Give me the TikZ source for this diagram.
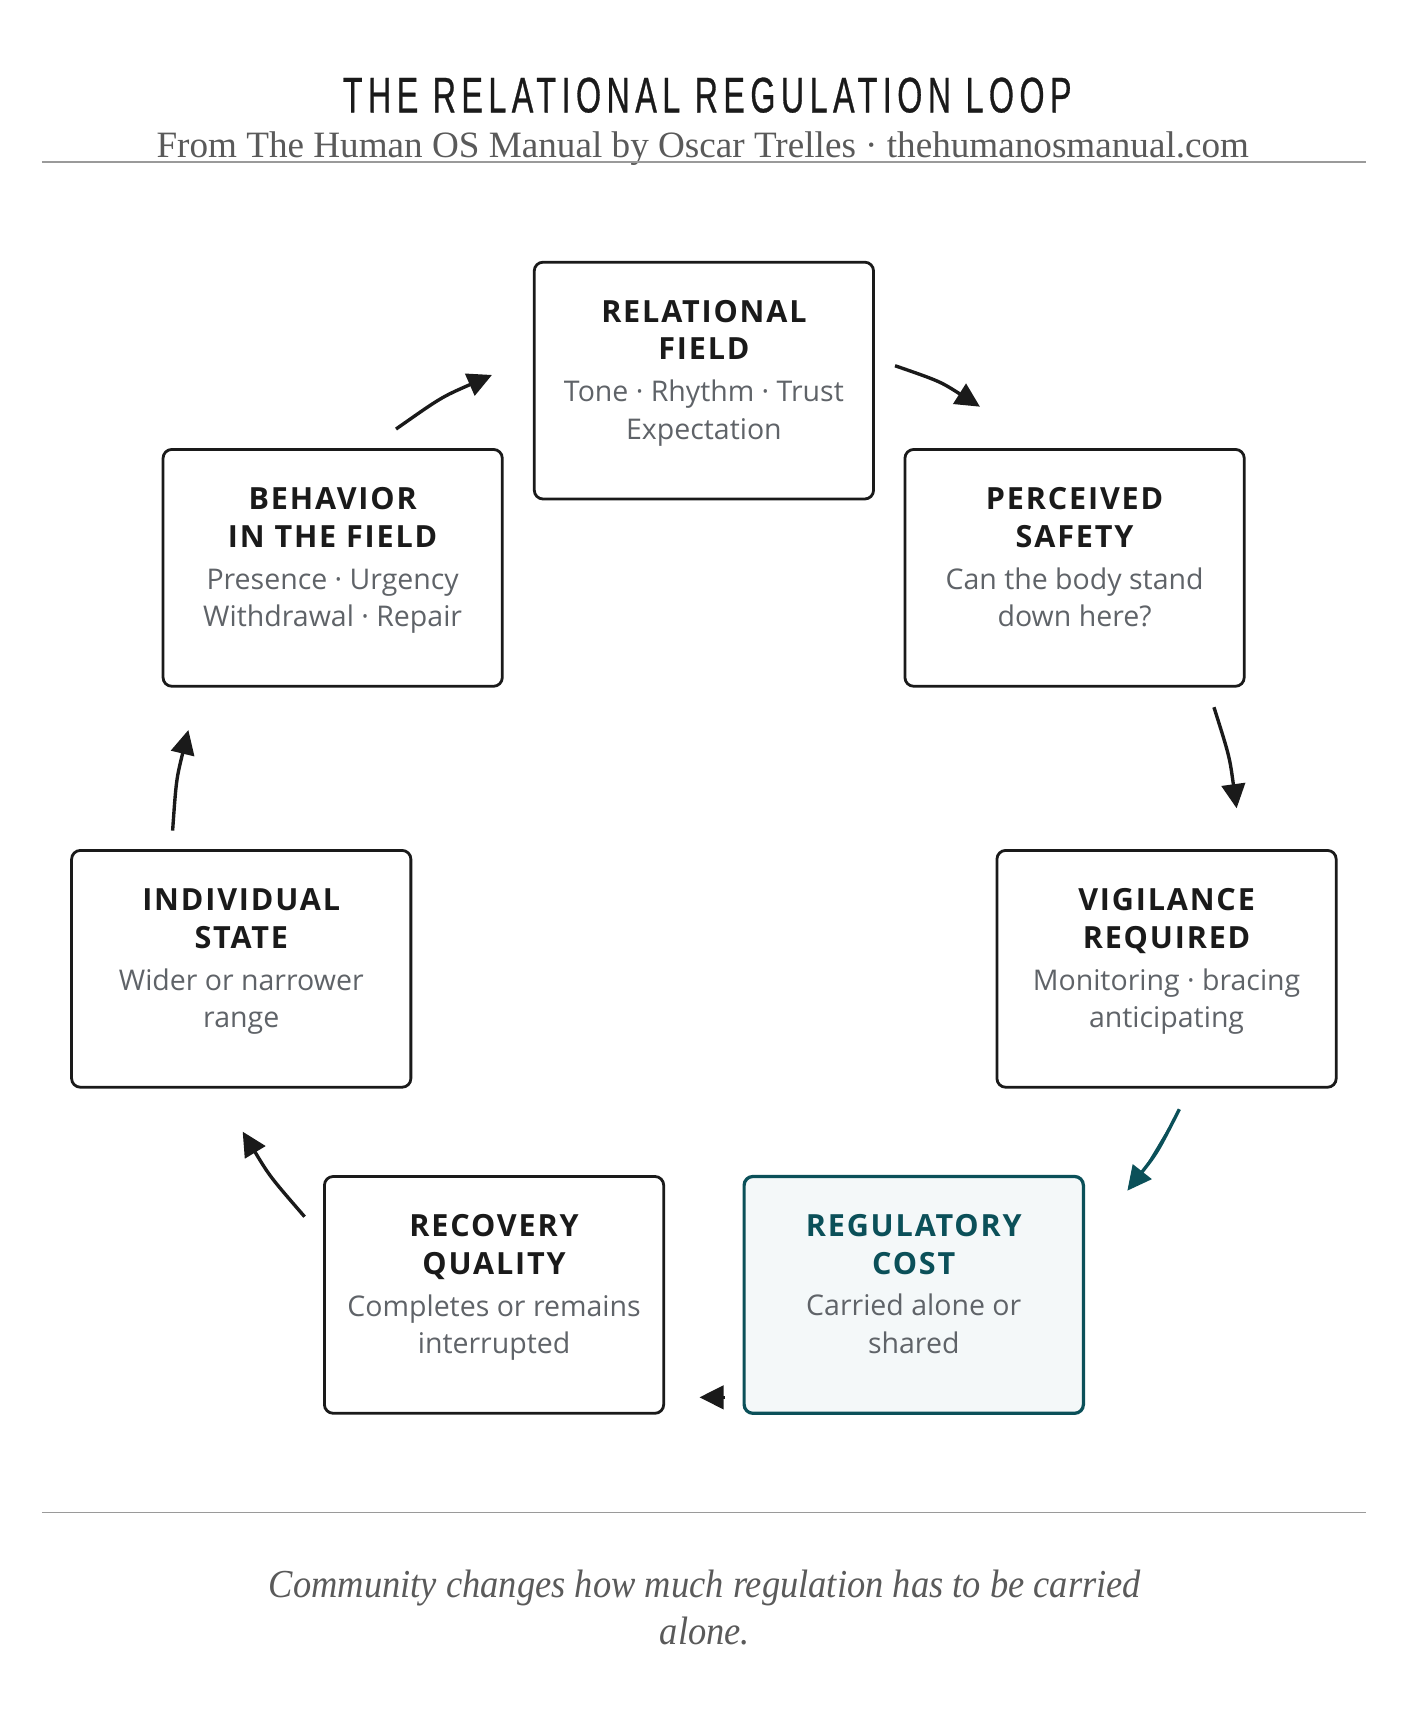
\documentclass[tikz,border=0pt]{standalone}
\usepackage{fontspec}
\usetikzlibrary{arrows.meta,calc}
\newfontfamily\headfont[FakeStretch=0.645,LetterSpace=11,FakeBold=0.6]{Liberation Sans}
\newfontfamily\serifsub{Liberation Serif}
\newfontfamily\footfont[FakeStretch=0.92]{Liberation Serif}
\newfontfamily\boxfont{Open Sans}
\newfontfamily\boxtitlefont[LetterSpace=6]{Open Sans}
\definecolor{ink}{HTML}{1A1A1A}
\definecolor{subgray}{HTML}{5F6368}
\definecolor{tealdk}{HTML}{0B5059}
\definecolor{tealfill}{HTML}{F4F8F9}
\definecolor{rulegray}{HTML}{9A9A9A}
\definecolor{headgray}{HTML}{5A5A5A}
\tikzset{
  cyclebox/.style={draw=ink, line width=1.9pt, rounded corners=6pt, fill=white,
    minimum width=231pt, minimum height=161.25pt, inner sep=0pt},
  costbox/.style={cyclebox, draw=tealdk, line width=2.2pt, fill=tealfill},
  btitle/.style={anchor=base, inner sep=0pt, font=\boxtitlefont\bfseries\fontsize{20.8}{24}\selectfont},
  bsub/.style={anchor=base, inner sep=0pt, text=subgray, font=\boxfont\fontsize{19.4}{23}\selectfont},
  looparrow/.style={draw=ink, line width=2.3pt, -{Triangle[length=16.5pt,width=16pt]}},
  costarrow/.style={looparrow, draw=tealdk, fill=tealdk},
  rulestyle/.style={draw=rulegray, line width=0.8pt}
}
\newcommand\loopbox[8]{%
  \node[#7] (#1) at (#2) {};
  \node[btitle, text=#8] (#1-a) at ($(#1.north)+(0,56)$) {#3};
  \node[btitle, text=#8] (#1-b) at ($(#1.north)+(0,90)$) {#4};
  \node[bsub] (#1-c) at ($(#1.north)+(0,128)$) {#5};
  \node[bsub] (#1-d) at ($(#1.north)+(0,162)$) {#6};
}
\begin{document}
\begin{tikzpicture}[x=0.75pt,y=-0.75pt]
\useasboundingbox[fill=white] (0,0) rectangle (1280,1570.5);

% header
\node[anchor=base, inner sep=0pt, text=ink, font=\headfont\fontsize{34}{40}\selectfont] (title) at (642,102) {THE RELATIONAL REGULATION LOOP};
\node[anchor=base, inner sep=0pt, text=headgray, font=\serifsub\fontsize{25.3}{30}\selectfont] (subtitle) at (638,143) {From The Human OS Manual by Oscar Trelles · thehumanosmanual.com};
\coordinate (hl) at (38,147);
\coordinate (hr) at (1240,147);
\draw[rulestyle] (hl) -- (hr);

% boxes
\loopbox{rf}{639,345.5}{RELATIONAL}{FIELD}{Tone · Rhythm · Trust}{Expectation}{cyclebox}{ink}
\loopbox{ps}{975.5,515.5}{PERCEIVED}{SAFETY}{Can the body stand}{down here?}{cyclebox}{ink}
\loopbox{vr}{1059,879.5}{VIGILANCE}{REQUIRED}{Monitoring · bracing}{anticipating}{cyclebox}{ink}
\loopbox{rc}{829.5,1175.5}{REGULATORY}{COST}{Carried alone or}{shared}{costbox}{tealdk}
\loopbox{rq}{448.5,1175.5}{RECOVERY}{QUALITY}{Completes or remains}{interrupted}{cyclebox}{ink}
\loopbox{is}{219,879.5}{INDIVIDUAL}{STATE}{Wider or narrower}{range}{cyclebox}{ink}
\loopbox{bf}{302,515.5}{BEHAVIOR}{IN THE FIELD}{Presence · Urgency}{Withdrawal · Repair}{cyclebox}{ink}

% arrows (arcs of the loop)
\coordinate (a1s) at (359.5,389.5);  \coordinate (a1e) at (446.6,340.4);
\coordinate (a2s) at (812.5,332);    \coordinate (a2e) at (889.6,369.2);
\coordinate (a3s) at (1102,642);     \coordinate (a3e) at (1122.6,733.8);
\coordinate (a4s) at (1070.6,1007);  \coordinate (a4e) at (1023.4,1080.9);
\coordinate (a5s) at (658,1268.5);   \coordinate (a5e) at (635,1268.5);
\coordinate (a6s) at (276.5,1104.5); \coordinate (a6e) at (220.3,1027.3);
\coordinate (a7s) at (156.7,754);    \coordinate (a7e) at (171,662.7);

\draw[looparrow] (a1s) .. controls (400.6,360.6) .. (a1e);
\draw[looparrow] (a2s) .. controls (853.2,346.1) .. (a2e);
\draw[looparrow] (a3s) .. controls (1116.2,686.9) .. (a3e);
\draw[costarrow] (a4s) .. controls (1050.6,1046.2) .. (a4e);
\draw[looparrow] (a5s) -- (a5e);
\draw[looparrow] (a6s) .. controls (245.1,1068.2) .. (a6e);
\draw[looparrow] (a7s) .. controls (160,707.6) .. (a7e);

% footer
\coordinate (fl) at (38,1373);
\coordinate (fr) at (1240,1373);
\draw[rulestyle] (fl) -- (fr);
\node[anchor=base, inner sep=0pt, text=headgray, font=\footfont\itshape\fontsize{27}{32}\selectfont] (foot1) at (640,1450) {Community changes how much regulation has to be carried};
\node[anchor=base, inner sep=0pt, text=headgray, font=\footfont\itshape\fontsize{27}{32}\selectfont] (foot2) at (640,1493) {alone.};
\end{tikzpicture}
\end{document}
